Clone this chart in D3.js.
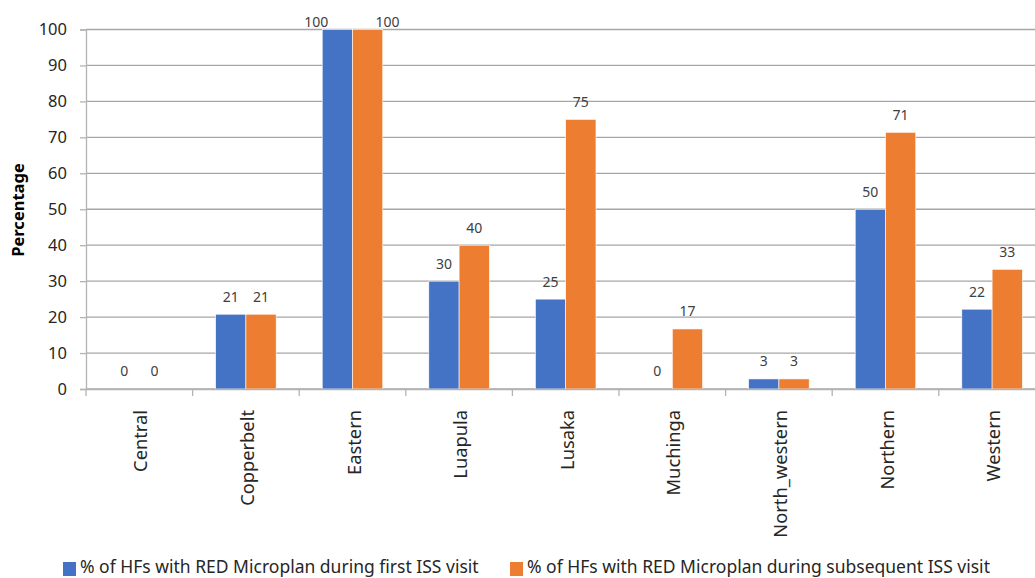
<!DOCTYPE html>
<html>
<head>
<meta charset="utf-8">
<script src="https://cdn.jsdelivr.net/npm/d3@7"></script>
<style>
  body { margin: 0; background: #fff; }
  svg { display: block; font-family: "Noto Sans", sans-serif; }
</style>
</head>
<body>
<svg id="chart" width="1035" height="578"></svg>
<script>
// provinces and the two series
const provinces = ["Central", "Copperbelt", "Eastern", "Luapula", "Lusaka", "Muchinga", "North_western", "Northern", "Western"];
const firstVisit = [0, 20.8, 100, 30, 25, 0, 2.8, 50, 22.2];
const subsequentVisit = [0, 20.8, 100, 40, 75, 16.7, 2.8, 71.4, 33.3];
const seriesNames = ["% of HFs with RED Microplan during first ISS visit", "% of HFs with RED Microplan during subsequent ISS visit"];
const colors = ["#4472C4", "#ED7D31"];
const yTicks = [0, 10, 20, 30, 40, 50, 60, 70, 80, 90, 100];

const svg = d3.select("#chart");

// plot area - right side runs past the window, like the original crop
const plotLeft = 86, plotTop = 29.5, plotBottom = 389;
const bandW = 106.6;

const x = d3.scaleBand()
    .domain(provinces)
    .range([plotLeft, plotLeft + bandW * provinces.length])
    .padding(0);

// two bars sit in the middle ~57% of each band
const x1 = d3.scaleBand()
    .domain([0, 1])
    .range([x.bandwidth() * 0.216, x.bandwidth() * 0.784]);

const y = d3.scaleLinear()
    .domain([0, 100])
    .range([plotBottom, plotTop]);

// gridlines
svg.append("g")
    .selectAll("line")
    .data(yTicks)
    .join("line")
    .attr("x1", plotLeft)
    .attr("x2", 1035)
    .attr("y1", d => y(d))
    .attr("y2", d => y(d))
    .attr("stroke", "#a6a6a6")
    .attr("stroke-width", 1.3);

// y axis
const yAxis = svg.append("g")
    .attr("transform", `translate(${plotLeft},0)`)
    .call(d3.axisLeft(y).tickValues(yTicks).tickSize(6).tickPadding(13));
yAxis.select(".domain").attr("stroke", "#b3b3b3").attr("stroke-width", 1.3);
yAxis.selectAll(".tick line").attr("stroke", "#b3b3b3").attr("stroke-width", 1.3);
yAxis.selectAll("text")
    .attr("fill", "#262626")
    .style("font-size", "16.5px")
    .style("font-family", "'Noto Sans', sans-serif");

// y title
svg.append("text")
    .attr("transform", "translate(24,210) rotate(-90)")
    .attr("text-anchor", "middle")
    .attr("fill", "#000")
    .style("font-size", "16.5px")
    .style("font-weight", "bold")
    .text("Percentage");

// bars
const rows = provinces.map((p, i) => ({ p: p, vals: [firstVisit[i], subsequentVisit[i]] }));

const groups = svg.append("g")
    .selectAll("g")
    .data(rows)
    .join("g")
    .attr("transform", d => `translate(${x(d.p)},0)`);

groups.selectAll("rect")
    .data(d => d.vals.map((v, k) => ({ v: v, k: k })))
    .join("rect")
    .attr("x", d => x1(d.k))
    .attr("width", x1.bandwidth())
    .attr("y", d => y(d.v))
    .attr("height", d => plotBottom - y(d.v))
    .attr("fill", d => colors[d.k])
    .attr("stroke", "#fff")
    .attr("stroke-width", 0.6);

// data labels, pushed down & apart when they hit the top
groups.selectAll("text")
    .data(d => d.vals.map((v, k) => ({ v: v, k: k })))
    .join("text")
    .attr("x", d => {
        let cx = x1(d.k) + x1.bandwidth() / 2;
        if (y(d.v) - 12.6 < 27) cx += d.k === 0 ? -21 : 20;
        return cx;
    })
    .attr("y", d => Math.max(y(d.v) - 12.6, 26.5))
    .attr("text-anchor", "middle")
    .attr("fill", "#404040")
    .style("font-size", "14px")
    .text(d => Math.round(d.v));

// x axis
const xAxis = svg.append("g")
    .attr("transform", `translate(0,${plotBottom})`)
    .call(d3.axisBottom(x).tickSize(0).tickFormat(""));
xAxis.select(".domain").attr("stroke", "#b3b3b3").attr("stroke-width", 1.3);

// category separator ticks
svg.append("g")
    .selectAll("line")
    .data(provinces.concat(["end"]))
    .join("line")
    .attr("x1", (d, i) => plotLeft + i * x.step())
    .attr("x2", (d, i) => plotLeft + i * x.step())
    .attr("y1", plotBottom)
    .attr("y2", plotBottom + 7)
    .attr("stroke", "#b3b3b3")
    .attr("stroke-width", 1.3);

// category labels, rotated
svg.append("g")
    .selectAll("text")
    .data(provinces)
    .join("text")
    .attr("transform", d => `translate(${x(d) + x.bandwidth() / 2 + 8},410) rotate(-90)`)
    .attr("text-anchor", "end")
    .attr("fill", "#262626")
    .style("font-size", "18.3px")
    .text(d => d);

// legend
const legend = svg.append("g");
const legendX = [63, 510];
seriesNames.forEach((name, i) => {
    legend.append("rect")
        .attr("x", legendX[i])
        .attr("y", 562)
        .attr("width", 13)
        .attr("height", 14)
        .attr("fill", colors[i]);
    legend.append("text")
        .attr("x", legendX[i] + 17)
        .attr("y", 573)
        .attr("fill", "#262626")
        .style("font-size", "17.5px")
        .text(name);
});
</script>
</body>
</html>
